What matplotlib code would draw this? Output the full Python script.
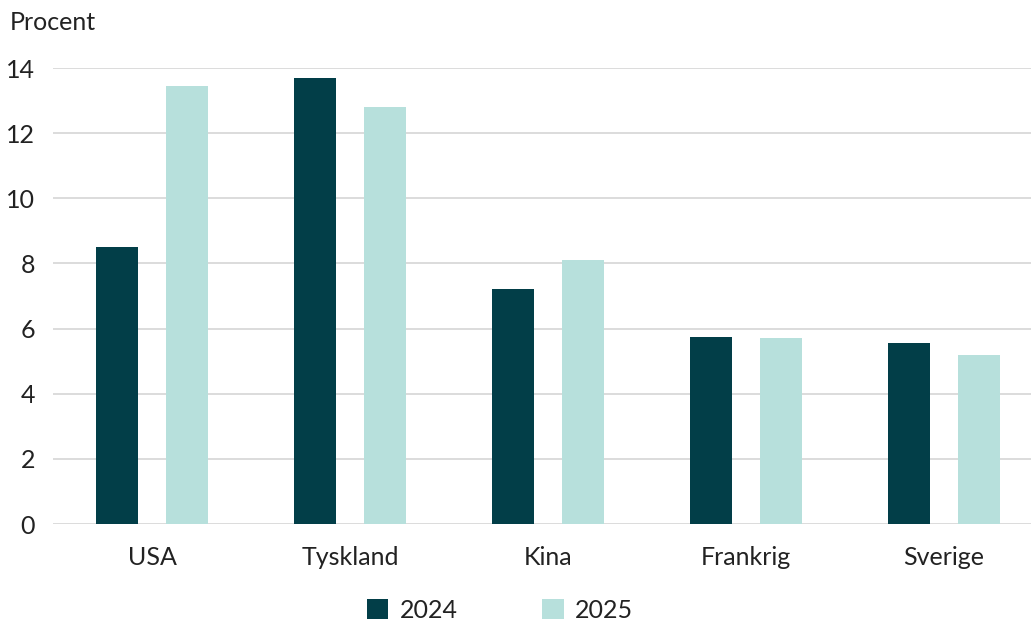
import matplotlib.pyplot as plt
import numpy as np

plt.rcParams['font.family'] = ['Lato', 'DejaVu Sans']

categories = ['USA', 'Tyskland', 'Kina', 'Frankrig', 'Sverige']
values_2024 = [8.5, 13.7, 7.2, 5.75, 5.55]
values_2025 = [13.45, 12.8, 8.12, 5.7, 5.2]
yticks = [0, 2, 4, 6, 8, 10, 12, 14]

dark = '#023e48'
light = '#b7e0dc'
text_col = '#222222'

fig = plt.figure(figsize=(10.31, 6.24), dpi=100)
ax = fig.add_axes([53 / 1031, 100 / 624, 978 / 1031, 456 / 624])

x = np.arange(len(categories))
w = 0.212
off = 0.177
ax.bar(x - off, values_2024, w, color=dark, label='2024', zorder=3)
ax.bar(x + off, values_2025, w, color=light, label='2025', zorder=3)

ax.set_ylim(0, 14)
ax.set_xlim(-0.5, 4.44)
ax.set_yticks(yticks)
ax.set_xticks(x)
ax.set_xticklabels(categories)
ax.grid(axis='y', color='#d9d9d9', linewidth=1.3, zorder=0)
for s in ax.spines.values():
    s.set_visible(False)
ax.tick_params(axis='both', length=0, labelsize=18, labelcolor=text_col)
ax.tick_params(axis='y', pad=13)
ax.tick_params(axis='x', pad=16)

fig.text(10 / 1031, 1 - 22 / 624, 'Procent', fontsize=18, color=text_col,
         va='center', ha='left')

fig.legend(loc='center', bbox_to_anchor=(500 / 1031, 1 - 610 / 624), ncol=2,
           frameon=False, fontsize=18, handlelength=0.85, handleheight=0.85,
           columnspacing=3.4, handletextpad=0.45, labelcolor=text_col,
           borderpad=0.2)

fig.savefig('out.png', dpi=100)
